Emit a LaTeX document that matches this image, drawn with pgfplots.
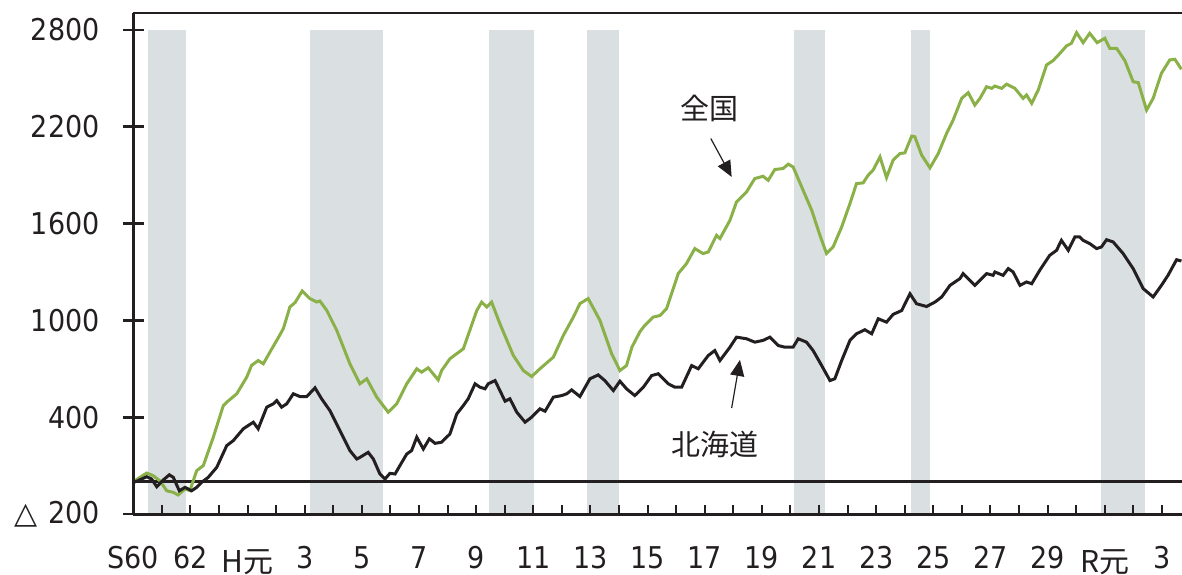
\documentclass[border=0pt]{standalone}
\usepackage{pgfplots}
\pgfplotsset{compat=1.18}
\usetikzlibrary{arrows.meta}
\usepackage{fontspec}
\setmainfont{DejaVu Sans Condensed}
\newfontfamily\dv{DejaVu Sans}
\newfontfamily\jp{Noto Sans CJK JP}
\definecolor{zgreen}{RGB}{138,176,72}
\definecolor{zblack}{RGB}{35,31,32}
\definecolor{band}{RGB}{218,223,226}
\begin{document}
\begin{tikzpicture}
\begin{axis}[
  name=ax,
  at={(0,0)}, anchor=south west,
  scale only axis, width=524.35pt, height=250.35pt,
  xmin=1985, xmax=2021.7, ymin=-200, ymax=2903,
  axis lines=left,
  axis line style={-, line width=1.5pt, color=zblack},
  tick align=inside,
  xtick pos=left, ytick pos=left,
  major tick length=10.5pt, minor tick length=4.5pt,
  xtick={1985,1987,...,2021},
  xticklabels={S60,62,{\raisebox{-2pt}{\jp H元}},3,5,7,9,11,13,15,17,19,21,23,25,27,29,{\raisebox{-2pt}{\jp R元}},3},
  minor xtick={1985,...,2021},
  every major x tick/.append style={draw=none},
  every minor x tick/.append style={line width=1pt, color=zblack},
  every y tick/.append style={xshift=-5.25pt, line width=1.4pt, color=zblack},
  ytick={-200,400,1000,1600,2200,2800},
  yticklabels={{{\dv △}\hspace{5.5pt}200},400,1000,1600,2200,2800},
  tick label style={font=\fontsize{15pt}{18pt}\selectfont, text=zblack},
  yticklabel style={anchor=east, inner sep=0pt, xshift=-16.65pt},
  xticklabel style={anchor=base, inner sep=0pt, yshift=-27pt},
  axis on top,
]
% recession bands
\addplot[fill=band, draw=none] coordinates {(1985.50,-200) (1985.50,2800) (1986.83,2800) (1986.83,-200)} -- cycle;
\addplot[fill=band, draw=none] coordinates {(1991.18,-200) (1991.18,2800) (1993.75,2800) (1993.75,-200)} -- cycle;
\addplot[fill=band, draw=none] coordinates {(1997.45,-200) (1997.45,2800) (1999.01,2800) (1999.01,-200)} -- cycle;
\addplot[fill=band, draw=none] coordinates {(2000.86,-200) (2000.86,2800) (2002.00,2800) (2002.00,-200)} -- cycle;
\addplot[fill=band, draw=none] coordinates {(2008.12,-200) (2008.12,2800) (2009.20,2800) (2009.20,-200)} -- cycle;
\addplot[fill=band, draw=none] coordinates {(2012.21,-200) (2012.21,2800) (2012.88,2800) (2012.88,-200)} -- cycle;
\addplot[fill=band, draw=none] coordinates {(2018.88,-200) (2018.88,2800) (2020.39,2800) (2020.39,-200)} -- cycle;
% zero line
\addplot[zblack, line width=1.3pt] coordinates {(1985,0) (2021.7,0)};
% 全国
\addplot[zgreen, line width=1.5pt] coordinates {
(1985.00,0) (1985.47,54) (1985.70,37) (1985.93,6) (1986.17,-56) (1986.40,-66) (1986.57,-82)
(1986.81,-45) (1986.98,-55) (1987.22,69) (1987.45,100) (1987.80,276) (1988.15,472) (1988.27,493)
(1988.62,545) (1988.97,648) (1989.14,721) (1989.37,751) (1989.55,731) (1989.78,803) (1990.02,876)
(1990.25,948) (1990.48,1083) (1990.66,1110) (1990.91,1182) (1991.18,1135) (1991.42,1114) (1991.53,1120)
(1991.77,1062) (1992.12,938) (1992.58,731) (1992.93,607) (1993.17,638) (1993.52,524) (1993.92,431)
(1994.22,483) (1994.57,607) (1994.92,700) (1995.09,679) (1995.32,706) (1995.67,631) (1995.79,689)
(1996.08,762) (1996.55,824) (1997.02,1061) (1997.19,1113) (1997.37,1083) (1997.54,1113) (1997.83,979)
(1998.30,782) (1998.65,689) (1998.94,652) (1999.23,700) (1999.70,772) (2000.05,907) (2000.40,1020)
(2000.63,1104) (2000.92,1135) (2001.33,1000) (2001.74,793) (2002.03,689) (2002.26,720) (2002.45,834)
(2002.73,930) (2002.90,969) (2003.19,1020) (2003.43,1030) (2003.66,1072) (2004.07,1290) (2004.36,1352)
(2004.65,1445) (2004.94,1414) (2005.12,1424) (2005.41,1527) (2005.53,1507) (2005.88,1620) (2006.11,1734)
(2006.46,1796) (2006.75,1879) (2007.04,1893) (2007.22,1868) (2007.45,1935) (2007.74,1941) (2007.92,1968)
(2008.09,1951) (2008.39,1827) (2008.74,1683) (2009.03,1527) (2009.26,1414) (2009.49,1455) (2009.79,1579)
(2010.08,1724) (2010.31,1848) (2010.54,1852) (2010.72,1900) (2010.89,1931) (2011.13,2013) (2011.36,1885)
(2011.59,1993) (2011.83,2034) (2012.00,2038) (2012.24,2142) (2012.35,2138) (2012.59,2024) (2012.88,1945)
(2013.17,2034) (2013.46,2158) (2013.69,2241) (2013.99,2376) (2014.22,2411) (2014.45,2334) (2014.63,2376)
(2014.86,2448) (2015.04,2438) (2015.15,2452) (2015.39,2438) (2015.56,2464) (2015.85,2438) (2016.14,2376)
(2016.26,2397) (2016.44,2345) (2016.67,2428) (2016.96,2583) (2017.19,2610) (2017.43,2655) (2017.66,2701)
(2017.83,2717) (2018.01,2783) (2018.24,2721) (2018.47,2779) (2018.73,2721) (2019.00,2748) (2019.17,2686)
(2019.41,2686) (2019.70,2610) (2019.99,2479) (2020.17,2473) (2020.46,2303) (2020.69,2376) (2020.98,2531)
(2021.27,2614) (2021.45,2618) (2021.68,2556)
};
% 北海道
\addplot[zblack, line width=1.5pt] coordinates {
(1985.00,-5) (1985.17,7) (1985.47,31) (1985.64,17) (1985.82,-31) (1986.05,11) (1986.26,43)
(1986.40,27) (1986.61,-56) (1986.81,-35) (1987.04,-56) (1987.22,-35) (1987.39,-4) (1987.62,27)
(1987.92,89) (1988.27,224) (1988.50,255) (1988.85,328) (1989.20,369) (1989.37,328) (1989.67,462)
(1989.90,483) (1990.02,503) (1990.19,462) (1990.37,483) (1990.60,545) (1990.83,528) (1991.07,528)
(1991.36,582) (1991.59,514) (1991.88,441) (1992.23,317) (1992.58,193) (1992.82,141) (1992.93,151)
(1993.22,182) (1993.40,141) (1993.63,48) (1993.81,17) (1993.98,52) (1994.16,48) (1994.33,100)
(1994.57,172) (1994.74,193) (1994.92,276) (1995.15,203) (1995.36,266) (1995.56,238) (1995.79,245)
(1996.08,296) (1996.32,420) (1996.55,472) (1996.72,514) (1996.96,607) (1997.13,586) (1997.31,576)
(1997.42,607) (1997.66,627) (1997.83,565) (1998.01,499) (1998.18,514) (1998.42,431) (1998.71,369)
(1998.94,400) (1999.23,452) (1999.41,437) (1999.70,524) (1999.99,534) (2000.17,545) (2000.34,569)
(2000.63,528) (2000.98,638) (2001.27,662) (2001.50,627) (2001.80,565) (2002.03,623) (2002.26,576)
(2002.55,534) (2002.85,586) (2003.14,658) (2003.37,669) (2003.72,607) (2003.95,586) (2004.19,586)
(2004.54,720) (2004.77,700) (2005.12,782) (2005.35,813) (2005.53,751) (2005.88,834) (2006.11,896)
(2006.46,886) (2006.75,865) (2007.04,876) (2007.28,896) (2007.57,844) (2007.80,834) (2008.09,834)
(2008.27,886) (2008.56,865) (2008.79,813) (2009.09,720) (2009.38,627) (2009.55,638) (2009.79,751)
(2010.08,876) (2010.31,917) (2010.60,942) (2010.84,917) (2011.07,1010) (2011.36,989) (2011.59,1037)
(2011.89,1061) (2012.18,1165) (2012.41,1103) (2012.76,1086) (2013.05,1113) (2013.29,1145) (2013.58,1217)
(2013.93,1259) (2014.04,1290) (2014.45,1217) (2014.86,1290) (2015.09,1279) (2015.15,1300) (2015.44,1279)
(2015.62,1321) (2015.79,1300) (2016.03,1217) (2016.26,1238) (2016.44,1227) (2016.72,1310) (2017.07,1403)
(2017.31,1434) (2017.48,1496) (2017.72,1434) (2017.95,1517) (2018.12,1517) (2018.24,1496) (2018.47,1476)
(2018.71,1445) (2018.88,1455) (2019.06,1500) (2019.29,1486) (2019.64,1414) (2019.99,1321) (2020.34,1197)
(2020.69,1145) (2020.98,1217) (2021.21,1279) (2021.51,1376) (2021.68,1368)
};
% annotations
\node[font=\jp\fontsize{14.5pt}{17pt}\selectfont, text=zblack] at (axis cs:2005.18,2313) {全国};
\draw[-{Triangle[length=8pt,width=7pt]}, line width=0.6pt, zblack] (axis cs:2005.21,2127) -- (axis cs:2005.94,1889);
\node[font=\jp\fontsize{14.5pt}{17pt}\selectfont, text=zblack] at (axis cs:2005.35,234) {北海道};
\draw[-{Triangle[length=8pt,width=7pt]}, line width=0.6pt, zblack] (axis cs:2005.94,457) -- (axis cs:2006.23,755);
\end{axis}
\draw[line width=1.2pt, zblack] (ax.north west) -- (ax.north east);
\pgfresetboundingbox
\path[use as bounding box] (-66.65pt,-30pt) rectangle (524.35pt,257pt);
\end{tikzpicture}
\end{document}
